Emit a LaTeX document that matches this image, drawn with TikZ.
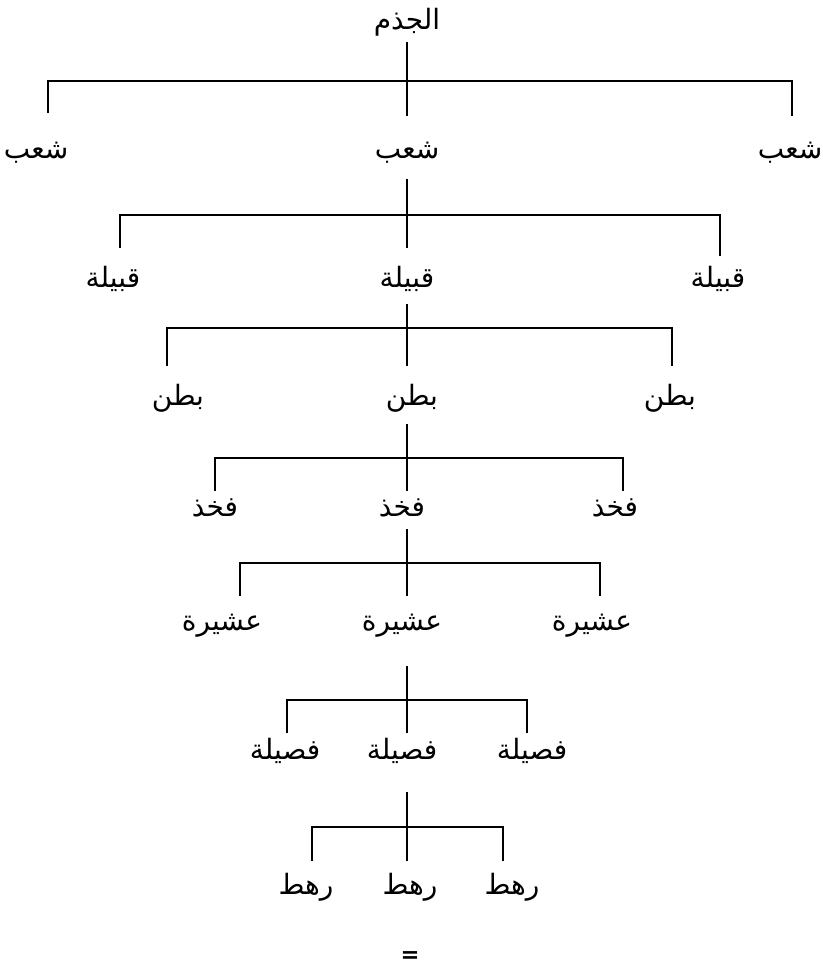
\documentclass[tikz,border=0pt]{standalone}
\usepackage{fontspec}
\TeXXeTstate=1
\newfontfamily\arabicfont[Script=Arabic]{DejaVu Sans}
\newfontfamily\symfont{DejaVu Sans}
\begin{document}
\begin{tikzpicture}[x=0.75pt,y=-0.75pt,
  lbl/.style={inner sep=0pt, font=\arabicfont\fontsize{21}{24}\selectfont},
  bar/.style={line width=1.5pt, line cap=rect}]
\useasboundingbox[fill=white] (0,0) rectangle (822,967);
\newcommand{\ar}[1]{\beginR #1\endR}
% labels
\node[lbl] (root) at (407,22) {\ar{الجذم}};
\node[lbl] (a1) at (36,153) {\ar{شعب}};
\node[lbl] (a2) at (407,153) {\ar{شعب}};
\node[lbl] (a3) at (790,153) {\ar{شعب}};
\node[lbl] (b1) at (113,279) {\ar{قبيلة}};
\node[lbl] (b2) at (407,279) {\ar{قبيلة}};
\node[lbl] (b3) at (718,279) {\ar{قبيلة}};
\node[lbl] (c1) at (178,398) {\ar{بطن}};
\node[lbl] (c2) at (412,398) {\ar{بطن}};
\node[lbl] (c3) at (670,398) {\ar{بطن}};
\node[lbl] (d1) at (215,508) {\ar{فخذ}};
\node[lbl] (d2) at (402,508) {\ar{فخذ}};
\node[lbl] (d3) at (615,508) {\ar{فخذ}};
\node[lbl] (e1) at (222,626) {\ar{عشيرة}};
\node[lbl] (e2) at (402,626) {\ar{عشيرة}};
\node[lbl] (e3) at (592,626) {\ar{عشيرة}};
\node[lbl] (f1) at (285,751) {\ar{فصيلة}};
\node[lbl] (f2) at (402,751) {\ar{فصيلة}};
\node[lbl] (f3) at (532,751) {\ar{فصيلة}};
\node[lbl] (g1) at (306,887) {\ar{رهط}};
\node[lbl] (g2) at (410,887) {\ar{رهط}};
\node[lbl] (g3) at (512,887) {\ar{رهط}};
\node[font=\symfont\bfseries\fontsize{17}{20}\selectfont, inner sep=0pt] (eq) at (410,957) {=};
% level 1
\coordinate (t1a) at (407,43); \coordinate (t1b) at (407,115);
\coordinate (h1l) at (48,81); \coordinate (h1r) at (792,81);
\coordinate (v1l) at (48,112); \coordinate (v1r) at (792,115);
\draw[bar] (t1a) -- (t1b);
\draw[bar] (v1l) -- (h1l) -- (h1r) -- (v1r);
% level 2
\coordinate (t2a) at (407,180); \coordinate (t2b) at (407,247);
\coordinate (h2l) at (120,215); \coordinate (h2r) at (720,215);
\coordinate (v2l) at (120,247); \coordinate (v2r) at (720,255);
\draw[bar] (t2a) -- (t2b);
\draw[bar] (v2l) -- (h2l) -- (h2r) -- (v2r);
% level 3
\coordinate (t3a) at (407,305); \coordinate (t3b) at (407,365);
\coordinate (h3l) at (167,328); \coordinate (h3r) at (672,328);
\coordinate (v3l) at (167,365); \coordinate (v3r) at (672,365);
\draw[bar] (t3a) -- (t3b);
\draw[bar] (v3l) -- (h3l) -- (h3r) -- (v3r);
% level 4
\coordinate (t4a) at (407,425); \coordinate (t4b) at (407,490);
\coordinate (h4l) at (215,458); \coordinate (h4r) at (623,458);
\coordinate (v4l) at (215,490); \coordinate (v4r) at (623,490);
\draw[bar] (t4a) -- (t4b);
\draw[bar] (v4l) -- (h4l) -- (h4r) -- (v4r);
% level 5
\coordinate (t5a) at (407,530); \coordinate (t5b) at (407,595);
\coordinate (h5l) at (240,563); \coordinate (h5r) at (600,563);
\coordinate (v5l) at (240,595); \coordinate (v5r) at (600,595);
\draw[bar] (t5a) -- (t5b);
\draw[bar] (v5l) -- (h5l) -- (h5r) -- (v5r);
% level 6
\coordinate (t6a) at (407,667); \coordinate (t6b) at (407,732);
\coordinate (h6l) at (287,700); \coordinate (h6r) at (527,700);
\coordinate (v6l) at (287,732); \coordinate (v6r) at (527,732);
\draw[bar] (t6a) -- (t6b);
\draw[bar] (v6l) -- (h6l) -- (h6r) -- (v6r);
% level 7
\coordinate (t7a) at (407,793); \coordinate (t7b) at (407,860);
\coordinate (h7l) at (312,827); \coordinate (h7r) at (503,827);
\coordinate (v7l) at (312,860); \coordinate (v7r) at (503,860);
\draw[bar] (t7a) -- (t7b);
\draw[bar] (v7l) -- (h7l) -- (h7r) -- (v7r);
\end{tikzpicture}
\end{document}
